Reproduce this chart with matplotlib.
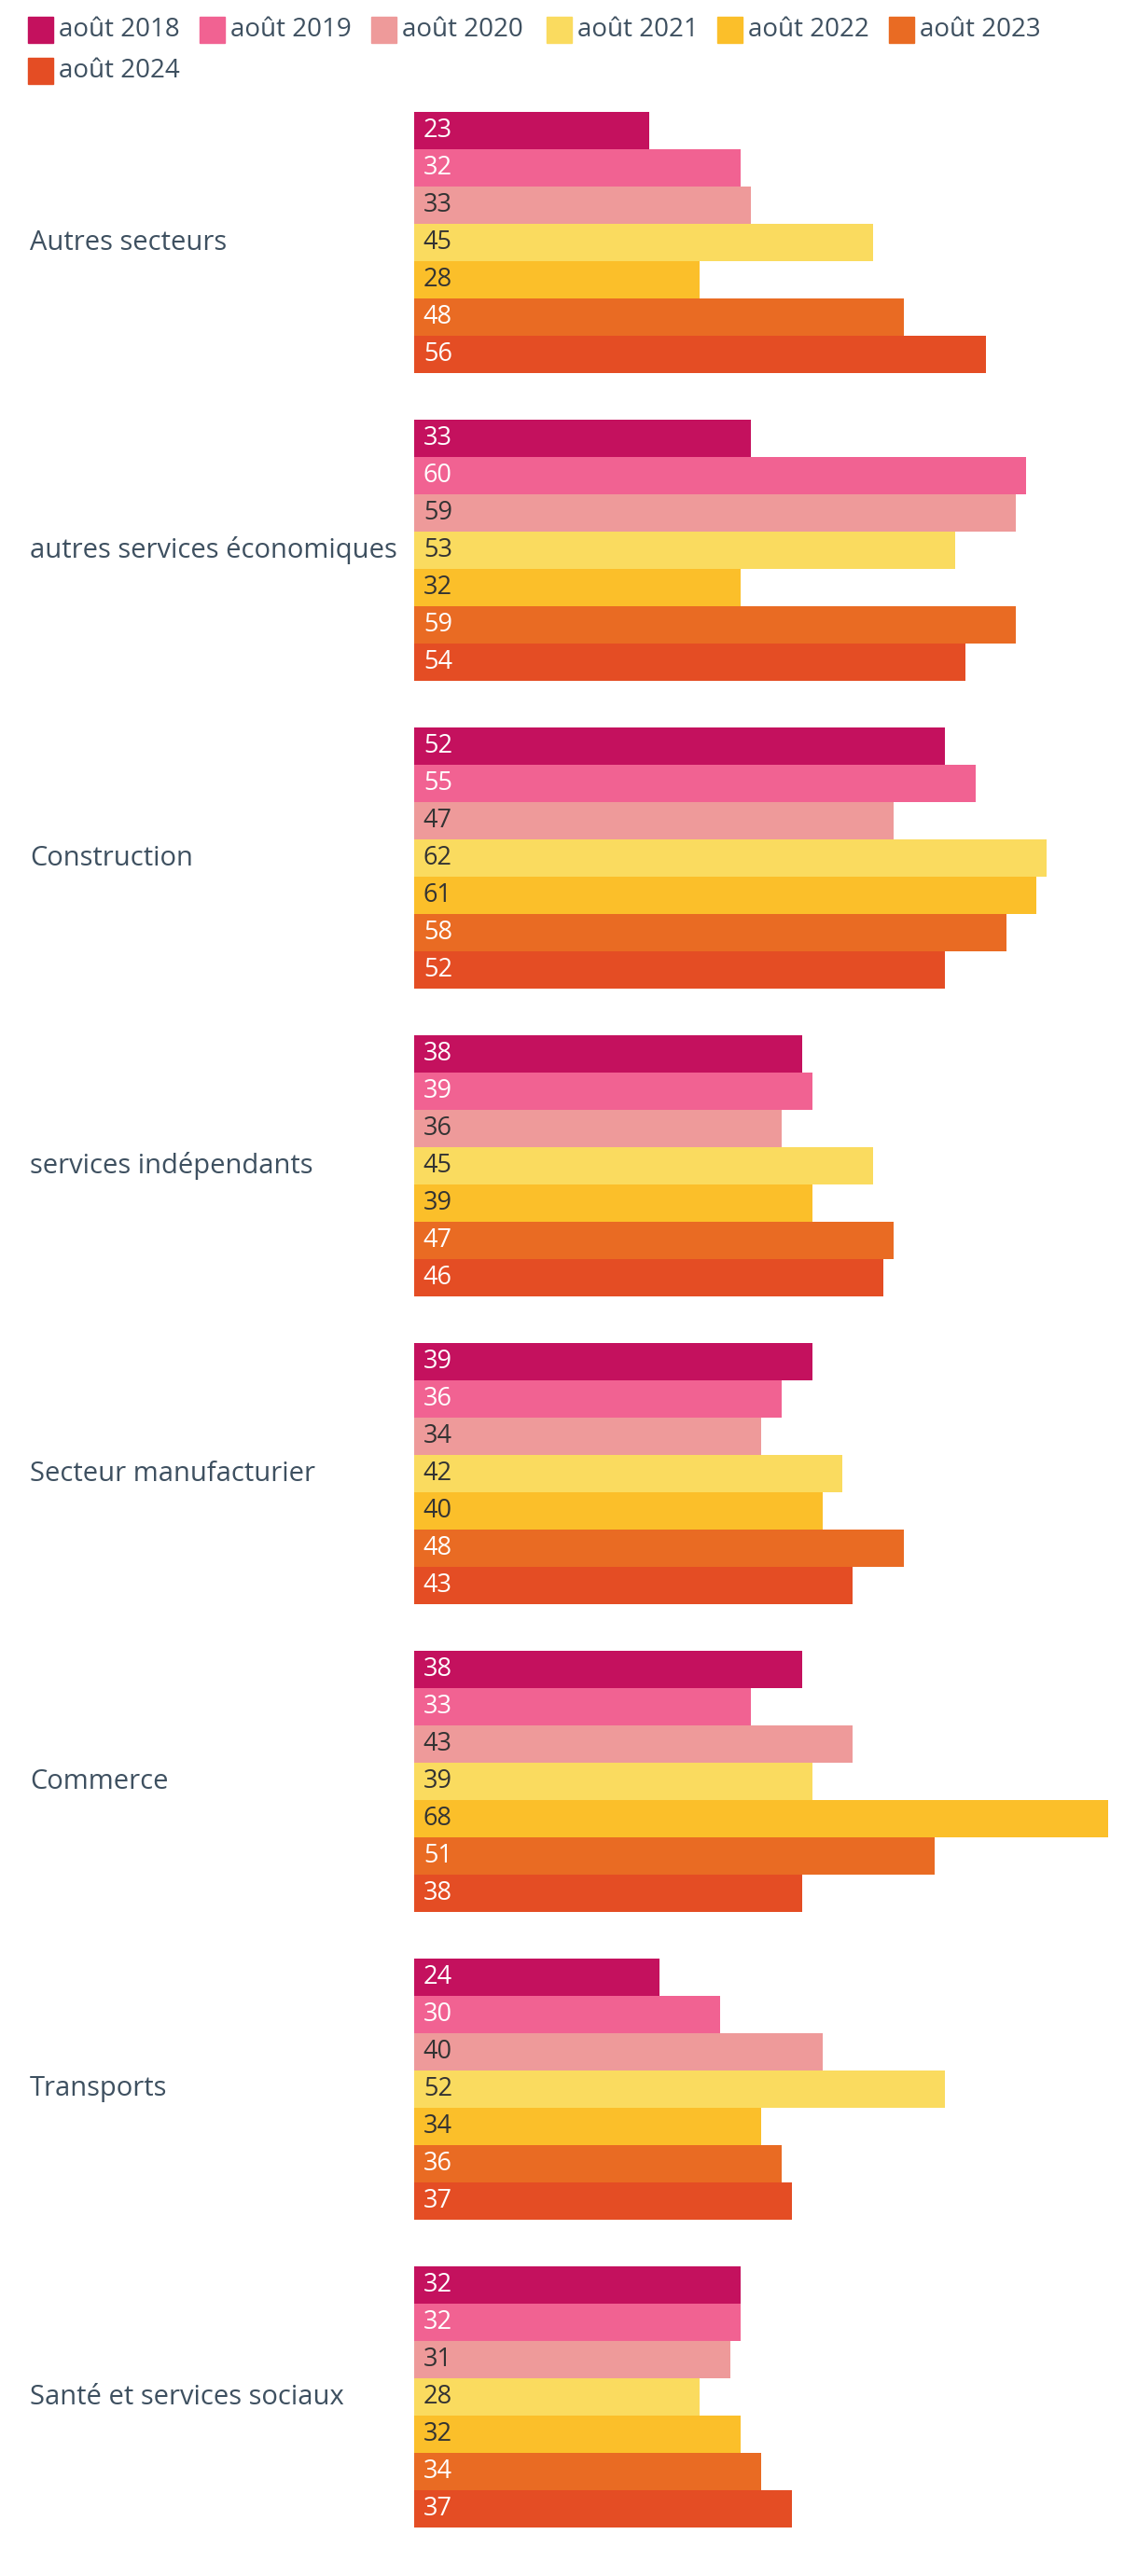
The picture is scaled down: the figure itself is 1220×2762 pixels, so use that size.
import matplotlib.pyplot as plt
import matplotlib.transforms as mtransforms
from matplotlib.patches import Rectangle

plt.rcParams['font.family'] = ['Open Sans', 'DejaVu Sans']

categories = ["Autres secteurs", "autres services économiques", "Construction",
              "services indépendants", "Secteur manufacturier", "Commerce",
              "Transports", "Santé et services sociaux"]
series = ["août 2018", "août 2019", "août 2020", "août 2021",
          "août 2022", "août 2023", "août 2024"]
values = [
    [23, 32, 33, 45, 28, 48, 56],
    [33, 60, 59, 53, 32, 59, 54],
    [52, 55, 47, 62, 61, 58, 52],
    [38, 39, 36, 45, 39, 47, 46],
    [39, 36, 34, 42, 40, 48, 43],
    [38, 33, 43, 39, 68, 51, 38],
    [24, 30, 40, 52, 34, 36, 37],
    [32, 32, 31, 28, 32, 34, 37],
]
colors = ["#C4115E", "#F16292", "#EE9A9A", "#FADB5F", "#FBBF2A", "#E96B23", "#E44D24"]
text_colors = ["white", "white", "#333333", "#333333", "#333333", "white", "white"]

W, H = 1220, 2762
fig = plt.figure(figsize=(W / 100, H / 100), dpi=100)
left = 444
ax = fig.add_axes([left / W, 0, 1 - left / W, 1])
ax.set_xlim(0, (W - left) / 10.94)
ax.set_ylim(H, 0)
ax.axis('off')

top0 = 120
pitch = 330
bh = 40
label_col = "#3E5060"
blend = mtransforms.blended_transform_factory(fig.transFigure, ax.transData)

for i, cat in enumerate(categories):
    g0 = top0 + i * pitch
    for j, v in enumerate(values[i]):
        yc = g0 + j * bh + bh / 2
        ax.barh(yc, v, height=bh, color=colors[j], linewidth=0)
        ax.text(0.9, yc, str(v), va='center', ha='left', fontsize=19.5,
                color=text_colors[j])
    ax.text(32 / W, g0 + 7 * bh / 2, cat, transform=blend, va='center',
            ha='left', fontsize=21, color=label_col)

# legend
leg_x = [30, 214, 398, 586, 769, 953, 30]
leg_y = [32, 32, 32, 32, 32, 32, 76]
for k, name in enumerate(series):
    x, y = leg_x[k], leg_y[k]
    fig.patches.append(Rectangle((x / W, 1 - (y + 14) / H), 27 / W, 28 / H,
                                 transform=fig.transFigure, color=colors[k]))
    fig.text((x + 33) / W, 1 - y / H, name, va='center', ha='left',
             fontsize=20, color=label_col)

fig.savefig("out.png", dpi=100)
